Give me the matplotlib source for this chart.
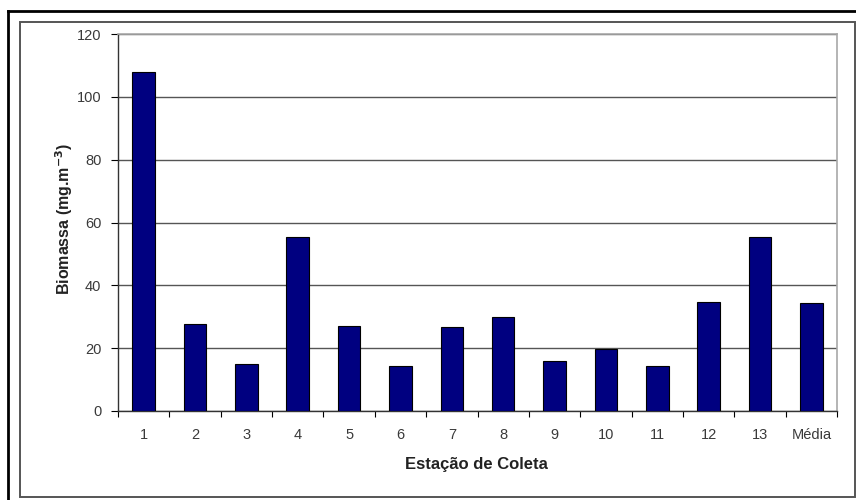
#!/usr/bin/env python3
"""Biomassa por estação de coleta - bar chart."""

import matplotlib
matplotlib.use("Agg")
import matplotlib.pyplot as plt
from matplotlib.lines import Line2D
from matplotlib.patches import Rectangle
import numpy as np

plt.rcParams["font.family"] = ["Liberation Sans", "DejaVu Sans"]

estacoes = ["1", "2", "3", "4", "5", "6", "7", "8", "9", "10", "11", "12", "13", "Média"]
biomassa = [108.0, 27.7, 15.1, 55.5, 27.0, 14.3, 26.8, 29.9, 16.0, 19.6, 14.3, 34.7, 55.5, 34.4]

NAVY = "#000080"
GRID = "#555555"
TXT = "#3a3a3a"

fig = plt.figure(figsize=(8.56, 5.0), dpi=100)
ax = fig.add_axes([118 / 856, 1 - 411 / 500, (837 - 118) / 856, (411 - 34) / 500])

x = np.arange(len(estacoes))
ax.bar(x, biomassa, width=0.44, color=NAVY, edgecolor="black", linewidth=0.8, zorder=3)

ax.set_xlim(-0.5, len(estacoes) - 0.5)
ax.set_ylim(0, 120)
ax.set_yticks(np.arange(0, 121, 20))
ax.yaxis.grid(True, color=GRID, linewidth=1.0, zorder=0)
ax.set_axisbelow(True)

# ticks between categories, labels centered under bars
ax.set_xticks(np.arange(-0.5, len(estacoes), 1.0))
ax.set_xticklabels([])
ax.set_xticks(x, minor=True)
ax.set_xticklabels(estacoes, minor=True)
ax.tick_params(axis="x", which="major", direction="out", length=4, color="black")
ax.tick_params(axis="x", which="minor", length=0, pad=12, labelsize=10.5, labelcolor=TXT)
ax.tick_params(axis="y", direction="out", length=5, color="black", labelsize=10.5, labelcolor=TXT, pad=7)

for side in ["top", "right"]:
    ax.spines[side].set_color("#a8a8a8")
    ax.spines[side].set_linewidth(1.2)
for side in ["left", "bottom"]:
    ax.spines[side].set_color("#333333")
    ax.spines[side].set_linewidth(1.0)

ax.set_ylabel("Biomassa (mg.m$^{\\mathbf{-3}}$)", fontsize=11.5, fontweight="bold", color="#222222")
ax.yaxis.set_label_coords(-0.060, 0.51)
ax.set_xlabel("Estação de Coleta", fontsize=12, fontweight="bold", color="#222222")
ax.xaxis.set_label_coords(0.498, -0.122)

# frames around the chart
fig.patches.append(Rectangle((20 / 856, 1 - 497 / 500), (855 - 20) / 856, (497 - 22) / 500,
                             transform=fig.transFigure, fill=False, edgecolor="#555555", linewidth=1.4))
fig.lines.append(Line2D([8 / 856, 1], [1 - 11 / 500, 1 - 11 / 500], transform=fig.transFigure,
                        color="black", linewidth=2.0))
fig.lines.append(Line2D([8 / 856, 8 / 856], [0, 1 - 11 / 500], transform=fig.transFigure,
                        color="black", linewidth=2.0))

fig.savefig("out.png", dpi=100, facecolor="white")
